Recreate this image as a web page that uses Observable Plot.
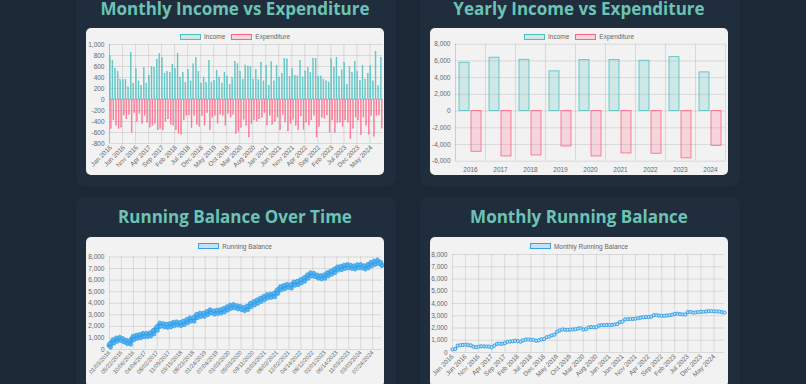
<!DOCTYPE html>
<html><head><meta charset="utf-8">
<script src="https://cdn.jsdelivr.net/npm/d3@7"></script>
<script src="https://cdn.jsdelivr.net/npm/@observablehq/plot@0.6"></script>
<style>
html,body{margin:0;padding:0;}
body{width:806px;height:384px;overflow:hidden;background:#1c2836;position:relative;font-family:"Liberation Sans",Arial,sans-serif;}
.card{position:absolute;background:#202d3c;border-radius:8px;}
.title{position:absolute;width:320px;font-family:"Open Sans",sans-serif;font-weight:700;font-size:17px;line-height:18px;color:#6cc3b5;text-align:center;white-space:nowrap;}
.box{position:absolute;background:#f2f2f2;border-radius:5px;overflow:hidden;}
.legend{position:absolute;left:0;right:0;height:7px;display:flex;justify-content:center;align-items:center;gap:6px;font-size:6.5px;color:#666;}
.legend .it{display:flex;align-items:center;gap:3px;}
.legend .sw{width:19px;height:4px;border:1px solid;}
.plot{position:absolute;left:0;}
</style></head><body>
<script>
// ---------- data ----------
const monthNames = ["Jan","Feb","Mar","Apr","May","Jun","Jul","Aug","Sep","Oct","Nov","Dec"];
const years = ["2016","2017","2018","2019","2020","2021","2022","2023","2024"];
const months = years.flatMap(y => monthNames.map(m => `${m} ${y}`)).slice(0, 105);
const monthTicks = ["Jan 2016","Jun 2016","Nov 2016","Apr 2017","Sep 2017","Feb 2018","Jul 2018","Dec 2018","May 2019","Oct 2019","Mar 2020","Aug 2020","Jan 2021","Jun 2021","Nov 2021","Apr 2022","Sep 2022","Feb 2023","Jul 2023","Dec 2023","May 2024"];

const monthlyIncome = [
 790,700,560,500,350,350,350,220,850,290,560,330,
 250,570,290,430,590,570,720,830,750,460,500,480,
 630,560,830,400,480,300,540,330,640,750,500,290,
 400,300,700,310,340,520,400,290,490,420,270,390,
 680,640,500,350,620,600,590,350,540,350,670,330,
 610,250,680,330,610,400,460,740,730,410,550,430,
 420,700,400,510,570,480,740,740,410,420,350,330,
 310,730,580,760,410,530,670,260,590,480,680,510,
 340,610,360,470,610,330,870,240,760];
const monthlyExpenditure = [
 -540,-380,-480,-540,-510,-290,-360,-280,-610,-250,-400,-260,
 -450,-300,-420,-510,-480,-450,-560,-540,-560,-410,-360,-460,
 -480,-560,-620,-640,-380,-300,-290,-520,-300,-460,-500,-300,
 -480,-250,-560,-340,-300,-440,-280,-300,-480,-260,-330,-280,
 -630,-590,-520,-370,-480,-690,-450,-380,-400,-360,-330,-250,
 -470,-300,-460,-400,-330,-560,-280,-420,-580,-450,-370,-480,
 -560,-310,-550,-420,-470,-380,-300,-690,-500,-330,-350,-290,
 -600,-380,-610,-430,-420,-500,-380,-420,-720,-530,-330,-380,
 -650,-330,-480,-640,-300,-680,-300,-290,-530];

const yearlyIncome = [5780,6380,6140,4750,6100,6100,6020,6450,4630];
const yearlyExpenditure = [-4870,-5430,-5310,-4240,-5430,-5070,-5110,-5660,-4160];

const balanceDates = ["01/03/2016","05/22/2016","10/06/2016","04/04/2017","08/02/2017","11/09/2017","03/15/2018","08/23/2018","01/24/2019","07/04/2019","01/03/2020","05/03/2020","09/11/2020","03/03/2021","08/02/2021","12/02/2021","04/14/2022","08/12/2022","02/01/2023","06/14/2023","11/03/2023","03/03/2024","07/24/2024"];
const runningBalance = [350,700,850,920,800,650,600,1000,1100,1150,1250,1250,1300,1500,1800,2150,2100,2050,2100,2200,2250,2200,2300,2450,2600,2600,2900,3000,3000,3150,3300,3200,3250,3300,3400,3550,3700,3750,3650,3600,3500,3600,3850,4000,4150,4300,4450,4600,4650,4700,5000,5300,5400,5500,5450,5700,5750,5900,6050,6300,6500,6450,6300,6250,6300,6500,6650,6800,7000,7050,7150,7200,7150,7100,7200,7200,7100,7200,7400,7500,7600,7400];
const samplesPerDateLabel = 3.57;

const monthlyRunningBalance = [
 250,280,560,600,620,640,600,580,470,430,480,510,
 500,490,480,420,560,700,720,710,760,870,900,920,
 960,930,880,990,1050,1060,1040,1030,960,1000,1080,1100,
 1250,1300,1400,1450,1700,1800,1880,1860,1840,1870,1880,1900,
 1950,1990,1870,1900,2050,2080,2060,2070,2200,2240,2230,2250,
 2240,2250,2290,2320,2480,2520,2700,2720,2730,2740,2760,2800,
 2850,2880,2900,2890,2920,3050,3050,3010,3000,2990,3020,3050,
 3080,3150,3170,3130,3110,3100,3300,3310,3250,3270,3300,3330,
 3320,3350,3380,3370,3360,3350,3340,3300,3250];

const ticksMonthlyY = [-800,-600,-400,-200,0,200,400,600,800,1000];
const ticksYearlyY = [-6000,-4000,-2000,0,2000,4000,6000,8000];
const ticksBalanceY = [0,1000,2000,3000,4000,5000,6000,7000,8000];

// ---------- colours ----------
const TEAL = "rgb(75,192,192)", TEAL_BG = "rgba(75,192,192,0.2)";
const PINK = "rgb(255,99,132)", PINK_BG = "rgba(255,99,132,0.2)";
const BLUE = "rgb(54,162,235)", BLUE_BG = "rgba(54,162,235,0.2)";
const fmt = d => d.toLocaleString("en-US");
const baseStyle = {fontFamily: "Liberation Sans, Arial, sans-serif", fontSize: "6.5px", color: "#666", background: "transparent", overflow: "visible"};

// ---------- layout helpers ----------
function card(left, top, w, h) {
  const c = document.createElement("div"); c.className = "card";
  Object.assign(c.style, {left: left+"px", top: top+"px", width: w+"px", height: h+"px"});
  document.body.appendChild(c);
}
function title(text, left, top) {
  const t = document.createElement("div"); t.className = "title"; t.textContent = text;
  Object.assign(t.style, {left: left+"px", top: top+"px"});
  document.body.appendChild(t);
}
function box(left, top, w, h, legendItems, legendTop) {
  const b = document.createElement("div"); b.className = "box";
  Object.assign(b.style, {left: left+"px", top: top+"px", width: w+"px", height: h+"px"});
  const lg = document.createElement("div"); lg.className = "legend"; lg.style.top = legendTop+"px";
  for (const [label, stroke, fill] of legendItems) {
    const it = document.createElement("div"); it.className = "it";
    const sw = document.createElement("div"); sw.className = "sw";
    sw.style.borderColor = stroke; sw.style.background = fill;
    const tx = document.createElement("span"); tx.textContent = label;
    it.append(sw, tx); lg.appendChild(it);
  }
  b.appendChild(lg);
  document.body.appendChild(b);
  return b;
}
function place(b, svg, top) { svg.classList.add("plot"); svg.style.top = top+"px"; b.appendChild(svg); }

// cards
card(76, -12, 320, 198); card(420, -12, 320, 198);
card(76, 197, 320, 200); card(420, 197, 320, 200);
title("Monthly Income vs Expenditure", 75, -0.5);
title("Yearly Income vs Expenditure", 419, -0.5);
title("Running Balance Over Time", 75, 207.5);
title("Monthly Running Balance", 419, 207.5);

// ---------- Chart 1: monthly ----------
{
  const b = box(86, 28, 298, 147, [["Income", TEAL, TEAL_BG], ["Expenditure", PINK, PINK_BG]], 5);
  const W = 298, ml = 23, mr = 1.5;
  const step = (W - ml - mr) / months.length, bw = step * 0.8;
  const data = months.map((m, i) => ({m, inc: monthlyIncome[i], exp: monthlyExpenditure[i]}));
  const svg = Plot.plot({
    width: W, height: 137, marginTop: 6, marginBottom: 32, marginLeft: ml, marginRight: mr,
    style: baseStyle,
    x: {type: "band", domain: months, paddingInner: 0.2, paddingOuter: 0.1, axis: null},
    y: {domain: [-800, 1000], axis: null},
    marks: [
      Plot.gridY(ticksMonthlyY, {stroke: "#000", strokeOpacity: 0.1}),
      Plot.gridX(monthTicks, {stroke: "#000", strokeOpacity: 0.1, dx: -step / 2}),
      Plot.ruleX([months[0]], {stroke: "#000", strokeOpacity: 0.15, dx: -step / 2}),
      Plot.barY(data, {x: "m", y: "inc", fill: "rgba(75,192,192,0.8)", stroke: TEAL, strokeWidth: 0.4, insetLeft: bw * 0.05, insetRight: bw * 0.5}),
      Plot.barY(data, {x: "m", y: "exp", fill: "rgba(255,99,132,0.75)", stroke: PINK, strokeWidth: 0.4, insetLeft: bw * 0.5, insetRight: bw * 0.05}),
      Plot.axisY(ticksMonthlyY, {tickSize: 0, tickPadding: 5, tickFormat: fmt, label: null}),
      Plot.axisX(monthTicks, {tickSize: 0, tickPadding: 3, tickRotate: -45, label: null})
    ]
  });
  place(b, svg, 10);
}

// ---------- Chart 2: yearly ----------
{
  const b = box(430, 28, 298, 147, [["Income", TEAL, TEAL_BG], ["Expenditure", PINK, PINK_BG]], 5);
  const W = 298, ml = 25, mr = 3;
  const step = (W - ml - mr) / years.length, bw = step * 0.8;
  const data = years.map((y, i) => ({yr: y, inc: yearlyIncome[i], exp: yearlyExpenditure[i]}));
  const svg = Plot.plot({
    width: W, height: 137, marginTop: 5.7, marginBottom: 14.3, marginLeft: ml, marginRight: mr,
    style: baseStyle,
    x: {type: "band", domain: years, paddingInner: 0.2, paddingOuter: 0.1, axis: null},
    y: {domain: [-6000, 8000], axis: null},
    marks: [
      Plot.gridY(ticksYearlyY, {stroke: "#000", strokeOpacity: 0.1}),
      Plot.gridX(years, {stroke: "#000", strokeOpacity: 0.1, dx: step / 2}),
      Plot.ruleX([years[0]], {stroke: "#000", strokeOpacity: 0.15, dx: -step / 2}),
      Plot.barY(data, {x: "yr", y: "inc", fill: TEAL_BG, stroke: TEAL, strokeWidth: 0.8, insetLeft: bw * 0.025 + 0.4, insetRight: bw * 0.525 + 0.4}),
      Plot.barY(data, {x: "yr", y: "exp", fill: PINK_BG, stroke: PINK, strokeWidth: 0.8, insetLeft: bw * 0.525 + 0.4, insetRight: bw * 0.025 + 0.4}),
      Plot.axisY(ticksYearlyY, {tickSize: 0, tickPadding: 5, tickFormat: fmt, label: null}),
      Plot.axisX(years, {tickSize: 0, tickPadding: 6, label: null})
    ]
  });
  place(b, svg, 10);
}

// ---------- Chart 3: running balance over time ----------
{
  const b = box(86, 237, 298, 150, [["Running Balance", BLUE, BLUE_BG]], 5.5);
  const data = runningBalance.map((v, i) => ({i, v}));
  const tickPos = balanceDates.map((_, k) => k * samplesPerDateLabel);
  const svg = Plot.plot({
    width: 298, height: 134, marginTop: 6.5, marginBottom: 35, marginLeft: 23, marginRight: 2,
    style: baseStyle,
    x: {domain: [0, runningBalance.length - 0.5], axis: null},
    y: {domain: [0, 8000], axis: null},
    marks: [
      Plot.gridY(ticksBalanceY, {stroke: "#000", strokeOpacity: 0.1}),
      Plot.gridX(tickPos, {stroke: "#000", strokeOpacity: 0.1}),
      Plot.line(data, {x: "i", y: "v", stroke: BLUE, strokeWidth: 5.5, strokeLinejoin: "round"}),
      Plot.dot(data, {x: "i", y: "v", r: 1.7, fill: "#5cb3ef", stroke: BLUE, strokeWidth: 0.8, dy: -2}),
      Plot.dot(data, {x: "i", y: "v", r: 1.7, fill: "#5cb3ef", stroke: BLUE, strokeWidth: 0.8, dy: 2, dx: 1.2}),
      Plot.axisY(ticksBalanceY, {tickSize: 0, tickPadding: 5, tickFormat: fmt, label: null}),
      Plot.axisX(tickPos, {tickSize: 0, tickPadding: 2, tickRotate: -48, fontSize: 5.8, tickFormat: (d, k) => balanceDates[k], label: null})
    ]
  });
  place(b, svg, 13);
}

// ---------- Chart 4: monthly running balance ----------
{
  const b = box(430, 237, 298, 150, [["Monthly Running Balance", BLUE, BLUE_BG]], 5.5);
  const data = months.map((m, i) => ({m, v: monthlyRunningBalance[i]}));
  const svg = Plot.plot({
    width: 298, height: 134, marginTop: 4, marginBottom: 32, marginLeft: 22, marginRight: 4,
    style: baseStyle,
    x: {type: "point", domain: months, padding: 0, axis: null},
    y: {domain: [0, 8000], axis: null},
    marks: [
      Plot.gridY(ticksBalanceY, {stroke: "#000", strokeOpacity: 0.1}),
      Plot.gridX(monthTicks, {stroke: "#000", strokeOpacity: 0.1}),
      Plot.line(data, {x: "m", y: "v", stroke: BLUE, strokeWidth: 1.5}),
      Plot.dot(data, {x: "m", y: "v", r: 1.6, fill: "#bfe0f7", stroke: BLUE, strokeWidth: 1}),
      Plot.axisY(ticksBalanceY, {tickSize: 0, tickPadding: 5, tickFormat: fmt, label: null}),
      Plot.axisX(monthTicks, {tickSize: 0, tickPadding: 3, tickRotate: -45, label: null})
    ]
  });
  place(b, svg, 13);
}
</script>
</body></html>
